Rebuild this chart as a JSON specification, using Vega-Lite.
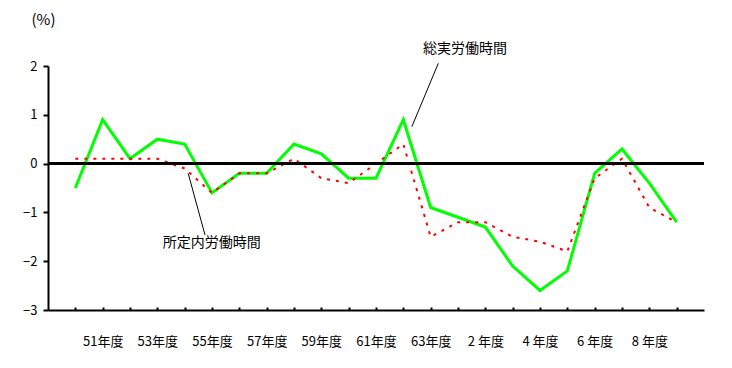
{
  "$schema": "https://vega.github.io/schema/vega-lite/v6.json",
  "width": 656,
  "height": 244,
  "autosize": {"type": "none"},
  "padding": {"left": 48, "top": 66, "right": 28, "bottom": 58},
  "background": "white",
  "config": {
    "view": {"stroke": null},
    "font": "Noto Sans CJK JP",
    "axis": {"grid": false, "domainColor": "black", "tickColor": "black", "labelColor": "black", "titleColor": "black", "labelFont": "Noto Sans CJK JP", "titleFont": "Noto Sans CJK JP"}
  },
  "layer": [
    {
      "data": {"values": [
        {"年度": "50年度", "総実労働時間": -0.5, "所定内労働時間": 0.1},
        {"年度": "51年度", "総実労働時間": 0.9, "所定内労働時間": 0.1},
        {"年度": "52年度", "総実労働時間": 0.1, "所定内労働時間": 0.1},
        {"年度": "53年度", "総実労働時間": 0.5, "所定内労働時間": 0.1},
        {"年度": "54年度", "総実労働時間": 0.4, "所定内労働時間": -0.1},
        {"年度": "55年度", "総実労働時間": -0.6, "所定内労働時間": -0.6},
        {"年度": "56年度", "総実労働時間": -0.2, "所定内労働時間": -0.2},
        {"年度": "57年度", "総実労働時間": -0.2, "所定内労働時間": -0.2},
        {"年度": "58年度", "総実労働時間": 0.4, "所定内労働時間": 0.1},
        {"年度": "59年度", "総実労働時間": 0.2, "所定内労働時間": -0.3},
        {"年度": "60年度", "総実労働時間": -0.3, "所定内労働時間": -0.4},
        {"年度": "61年度", "総実労働時間": -0.3, "所定内労働時間": 0.0},
        {"年度": "62年度", "総実労働時間": 0.9, "所定内労働時間": 0.4},
        {"年度": "63年度", "総実労働時間": -0.9, "所定内労働時間": -1.5},
        {"年度": "元年度", "総実労働時間": -1.1, "所定内労働時間": -1.2},
        {"年度": "2 年度", "総実労働時間": -1.3, "所定内労働時間": -1.2},
        {"年度": "3 年度", "総実労働時間": -2.1, "所定内労働時間": -1.5},
        {"年度": "4 年度", "総実労働時間": -2.6, "所定内労働時間": -1.6},
        {"年度": "5 年度", "総実労働時間": -2.2, "所定内労働時間": -1.8},
        {"年度": "6 年度", "総実労働時間": -0.2, "所定内労働時間": -0.3},
        {"年度": "7 年度", "総実労働時間": 0.3, "所定内労働時間": 0.1},
        {"年度": "8 年度", "総実労働時間": -0.4, "所定内労働時間": -0.9},
        {"年度": "9 年度", "総実労働時間": -1.2, "所定内労働時間": -1.2}
      ]},
      "layer": [
        {
          "mark": {"type": "line", "color": "#00ff00", "strokeWidth": 3},
          "encoding": {
            "x": {
              "field": "年度", "type": "ordinal", "sort": null, "title": null,
              "scale": {"type": "point", "padding": 1},
              "axis": {
                "domainWidth": 2, "tickSize": -3, "tickWidth": 2,
                "labelAngle": 0, "labelFontSize": 13, "labelPadding": 28,
                "labelExpr": "round(datum.index * 22) % 2 == 1 ? datum.label : ''"
              }
            },
            "y": {
              "field": "総実労働時間", "type": "quantitative", "title": "(%)",
              "scale": {"domain": [-3, 2], "nice": false},
              "axis": {
                "titleAngle": 0, "titleAlign": "center", "titleBaseline": "middle",
                "titleX": -5, "titleY": -47, "titleFontSize": 15, "titleFontWeight": "normal",
                "values": [-3, -2, -1, 0, 1, 2], "domainWidth": 2, "tickSize": 5, "tickWidth": 2,
                "labelFontSize": 13, "labelPadding": 6
              }
            }
          }
        },
        {
          "mark": {"type": "line", "color": "#ff0000", "strokeWidth": 2, "strokeDash": [3, 6]},
          "encoding": {
            "x": {"field": "年度", "type": "ordinal", "sort": null, "title": null},
            "y": {"field": "所定内労働時間", "type": "quantitative", "title": "(%)"}
          }
        },
        {
          "mark": {"type": "rule", "color": "black", "strokeWidth": 2},
          "encoding": {"y": {"datum": 0, "type": "quantitative", "title": "(%)"}}
        }
      ]
    },
    {
      "data": {"values": [
        {"name": "総実労働時間", "tx": 14.26, "ty": 2.35, "x1": 13.28, "y1": 2.055, "x2": 12.31, "y2": 0.756},
        {"name": "所定内労働時間", "tx": 4.99, "ty": -1.637, "x1": 4.13, "y1": -0.203, "x2": 4.745, "y2": -1.463}
      ]},
      "layer": [
        {
          "mark": {"type": "rule", "color": "black", "strokeWidth": 1},
          "encoding": {
            "x": {"field": "x1", "type": "quantitative", "scale": {"domain": [-1, 23], "nice": false, "zero": false}, "axis": null},
            "x2": {"field": "x2"},
            "y": {"field": "y1", "type": "quantitative", "title": "(%)"},
            "y2": {"field": "y2"}
          }
        },
        {
          "mark": {"type": "text", "fontSize": 14, "align": "center", "baseline": "middle", "color": "black", "font": "Noto Sans CJK JP"},
          "encoding": {
            "x": {"field": "tx", "type": "quantitative", "axis": null},
            "y": {"field": "ty", "type": "quantitative", "title": "(%)"},
            "text": {"field": "name"}
          }
        }
      ]
    }
  ],
  "resolve": {"scale": {"x": "independent"}}
}
